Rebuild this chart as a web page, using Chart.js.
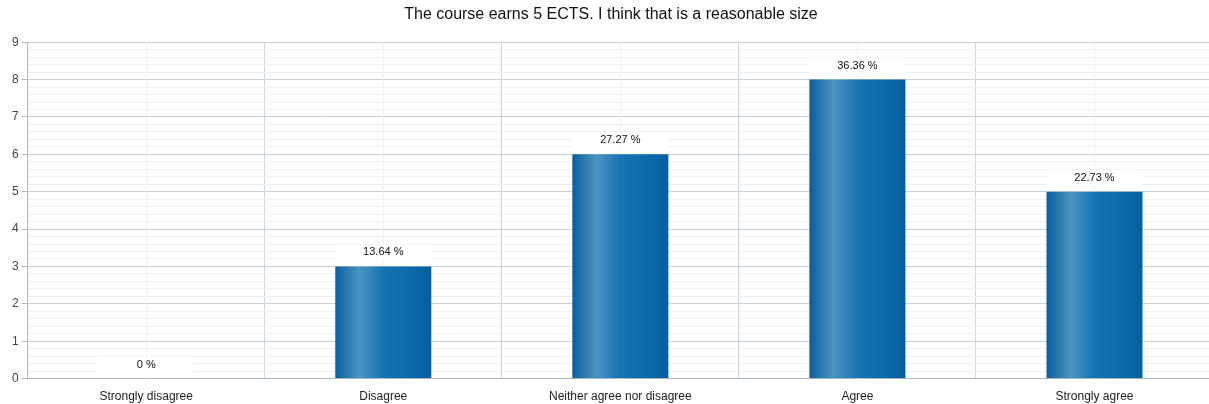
<!DOCTYPE html>
<html>
<head>
<meta charset="utf-8">
<script src="https://cdn.jsdelivr.net/npm/chart.js@4/dist/chart.umd.min.js"></script>
<style>
    html, body { margin: 0; padding: 0; background: #fff; overflow: hidden; }
    #wrap { width: 1214px; height: 404px; }
</style>
</head>
<body>
<div id="wrap"><canvas id="myChart"></canvas></div>
<script>
var categories = ['Strongly disagree', 'Disagree', 'Neither agree nor disagree', 'Agree', 'Strongly agree'];
var answers = [0, 3, 6, 8, 5];
var percentLabels = ['0 %', '13.64 %', '27.27 %', '36.36 %', '22.73 %'];
var yTicks = [0, 1, 2, 3, 4, 5, 6, 7, 8, 9];

var myChart;

function isMajor(v) {
    return Math.abs(v - Math.round(v)) < 0.001;
}

function barGradient(context) {
    var chart = context.chart;
    var xs = chart.scales.x;
    if (!chart.chartArea || !xs) return '#0b6aab';
    var w = (chart.chartArea.width / categories.length) * 0.405;
    var cx = xs.getPixelForValue(context.dataIndex);
    var g = chart.ctx.createLinearGradient(cx - w / 2, 0, cx + w / 2, 0);
    g.addColorStop(0, '#0a5e9c');
    g.addColorStop(0.25, '#4c94c1');
    g.addColorStop(0.5, '#1674b2');
    g.addColorStop(0.85, '#0967a7');
    g.addColorStop(1, '#085e9b');
    return g;
}

// faint line through the middle of every category
var centerLines = {
    id: 'centerLines',
    beforeDatasetsDraw: function (chart) {
        var c = chart.ctx, a = chart.chartArea, xs = chart.scales.x;
        c.save();
        c.strokeStyle = '#eef2f4';
        c.lineWidth = 1;
        categories.forEach(function (cat, i) {
            var x = Math.round(xs.getPixelForValue(i)) + 0.5;
            c.beginPath();
            c.moveTo(x, a.top);
            c.lineTo(x, a.bottom);
            c.stroke();
        });
        c.restore();
    }
};

// percentage on top of every bar, on a white box
var valueLabels = {
    id: 'valueLabels',
    afterDatasetsDraw: function (chart) {
        var c = chart.ctx;
        var meta = chart.getDatasetMeta(0);
        c.save();
        c.font = '11px "Liberation Sans", Arial, sans-serif';
        c.textAlign = 'center';
        c.textBaseline = 'middle';
        meta.data.forEach(function (bar, i) {
            var y = bar.y - 14;
            c.fillStyle = '#ffffff';
            c.fillRect(bar.x - bar.width / 2, y - 8, bar.width, 16);
            c.fillStyle = '#111111';
            c.fillText(percentLabels[i], bar.x, y);
        });
        c.restore();
    }
};

var cdata = {
    labels: categories,
    datasets: [{
        label: 'Answers',
        data: answers,
        backgroundColor: barGradient,
        borderWidth: 0,
        barPercentage: 0.405,
        categoryPercentage: 1
    }]
};

var config = {
    type: 'bar',
    data: cdata,
    plugins: [centerLines, valueLabels],
    options: {
        responsive: true,
        maintainAspectRatio: false,
        animation: false,
        layout: { padding: { left: 9, right: 1, top: 0, bottom: -11 } },
        plugins: {
            legend: { display: false },
            tooltip: { enabled: false },
            title: {
                display: true,
                text: 'The course earns 5 ECTS. I think that is a reasonable size',
                color: '#111111',
                font: { family: '"Liberation Sans", Arial, sans-serif', size: 16, weight: 'normal' },
                padding: { top: 5, bottom: 18 }
            }
        },
        scales: {
            x: {
                offset: true,
                grid: { offset: true, color: '#cdd7df', drawTicks: false },
                border: { color: '#a9b8c5' },
                ticks: {
                    color: '#222222',
                    padding: 11,
                    font: { family: '"Liberation Sans", Arial, sans-serif', size: 12 }
                }
            },
            y: {
                min: yTicks[0],
                max: yTicks[yTicks.length - 1],
                grid: {
                    tickLength: 6,
                    color: function (ctx) {
                        return isMajor(ctx.tick.value) ? '#c9d3dc' : '#eef1f3';
                    },
                    tickColor: function (ctx) {
                        return isMajor(ctx.tick.value) ? '#a9b8c5' : 'rgba(0,0,0,0)';
                    }
                },
                border: { color: '#a9b8c5' },
                ticks: {
                    stepSize: 0.2,
                    autoSkip: false,
                    padding: 3,
                    color: '#444444',
                    font: { family: '"Liberation Sans", Arial, sans-serif', size: 12 },
                    callback: function (v) {
                        return isMajor(v) ? Math.round(v) : '';
                    }
                }
            }
        }
    }
};

myChart = new Chart(document.getElementById('myChart'), config);
</script>
</body>
</html>
